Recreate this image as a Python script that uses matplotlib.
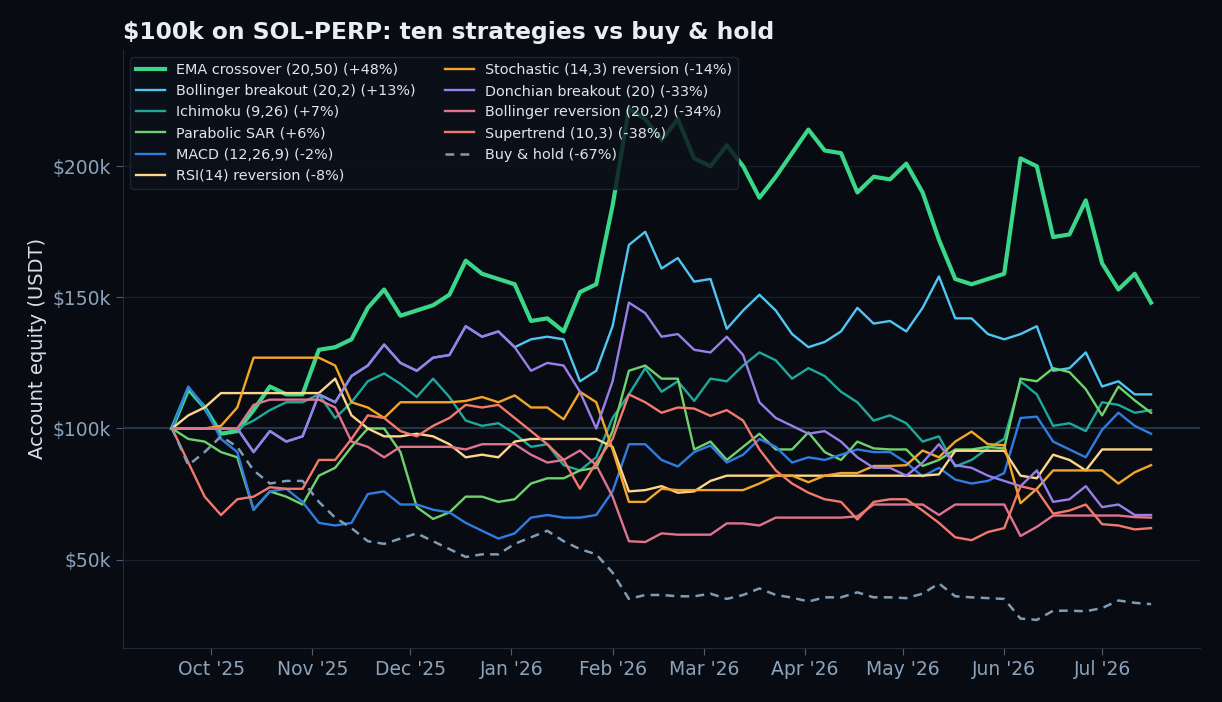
import pandas as pd
import matplotlib
matplotlib.use('Agg')
import matplotlib.pyplot as plt
import matplotlib.dates as mdates
from matplotlib.ticker import MultipleLocator, FuncFormatter


# equity in $k, sampled every 5 days from 2025-09-19
dates = pd.date_range('2025-09-19', periods=61, freq='5D')

ema = [100, 115, 108, 98, 99, 107, 116, 113, 113, 130, 131, 134, 146, 153, 143, 145, 147, 151, 164, 159,
       157, 155, 141, 142, 137, 152, 155, 185, 222, 218, 210, 218, 203, 200, 208, 200, 188, 196, 205, 214,
       206, 205, 190, 196, 195, 201, 190, 172, 157, 155, 157, 159, 203, 200, 173, 174, 187, 163, 153, 159, 148]
donchian = [100, 100, 100, 100, 100, 91, 99, 95, 97, 113, 110, 120, 124, 132, 125, 122, 127, 128, 139, 135,
            137, 131, 122, 125, 124, 114, 100, 118, 148, 144, 135, 136, 130, 129, 135, 128, 110, 104, 101, 98,
            99, 95, 89, 85, 85, 82, 87, 94, 86, 85, 82, 80, 78, 84, 72, 73, 78, 70, 71, 67, 67]
boll_break = donchian[:21] + [
    131, 134, 135, 134, 118, 122, 139, 170, 175, 161, 165, 156, 157, 138, 145, 151, 145, 136, 131,
    133, 137, 146, 140, 141, 137, 146, 158, 142, 142, 136, 134, 136, 139, 122, 123, 129, 116, 118, 113, 113]
ichimoku = [100, 100, 100, 100, 100, 103, 107, 110, 110, 113, 104, 110, 118, 121, 117, 112, 119, 112, 103, 101,
            102, 98, 93, 94, 86, 84, 89, 104, 113, 123, 114, 118, 110.5, 119, 118, 124, 129, 126, 119, 123,
            120, 114, 110, 103, 105, 102, 95, 97, 85.5, 88, 92.4, 96, 118, 113, 101, 102, 99, 110, 109, 106, 107]
psar = [100, 96, 95, 91, 89, 69, 76, 74, 71, 82, 85, 93, 100, 100, 91, 70, 65.5, 68, 74, 74,
        72, 73, 79, 81, 81, 84, 85, 99, 122, 124, 119, 119, 92, 95, 88, 93, 98, 92, 92, 98.5,
        91, 88, 95, 92.4, 92, 92, 85.7, 88, 92, 92, 93, 92.4, 119, 118, 123, 121.5, 115, 105, 116, 110.7, 106]
macd = [100, 116, 108, 96, 91, 69, 76, 77, 72, 64, 63, 64, 75, 76, 71, 71, 69, 68, 64, 61,
        58, 60, 66, 67, 66, 66, 67, 76, 94, 94, 88, 85.5, 91, 93.5, 87, 90, 96, 93, 87, 89,
        88, 90, 92, 91, 91, 87, 81.7, 85, 80.5, 79, 80, 83, 104, 104.5, 95, 92, 89, 99.5, 106, 101, 98]
rsi = [100, 105, 108, 113.5, 113.5, 113.5, 113.5, 113.5, 113.5, 113.5, 119, 105, 100, 97, 97, 98, 97, 94, 89, 90,
       89, 95, 96, 96, 96, 96, 96, 93, 76, 76.5, 78, 75.5, 76, 80, 82, 82, 82, 82, 82, 82,
       82, 82, 82, 82, 82, 82, 82, 82.5, 91.5, 91.5, 91.5, 91.5, 82, 81, 90, 88, 84, 92, 92, 92, 92]
stoch = [100, 100, 100, 101, 108, 127, 127, 127, 127, 127, 124, 110, 108, 104, 110, 110, 110, 110, 110.5, 112,
         110, 112.6, 108, 108, 103.5, 114, 110, 92, 72, 72, 77, 76.5, 76.5, 76.5, 76.5, 76.5, 79, 82, 82, 79.5,
         82, 83, 83, 85.7, 85.7, 86, 91.6, 89, 95, 98.8, 94, 93.6, 71.5, 77, 84, 84, 84, 84, 79, 83.3, 86]
boll_rev = [100, 100, 100, 100, 100, 109, 111, 111, 111, 111, 108, 95, 93, 89, 93, 93, 93, 93, 92, 94,
            94, 94, 90, 87, 88, 91.6, 86, 74, 57, 56.7, 60, 59.5, 59.5, 59.5, 63.8, 63.8, 63, 66, 66, 66,
            66, 66, 66.5, 71, 71, 71, 71, 67, 71, 71, 71, 71, 59, 62.5, 66.8, 66.8, 66.8, 66.8, 66.8, 66.2, 66]
supertrend = [100, 87, 74, 67, 73, 74, 77.6, 77, 77, 88, 88, 96, 105, 104, 99, 97, 101, 104, 109, 108,
              109, 104, 99, 94, 88, 77, 87, 96, 113, 110, 106, 108, 107.6, 104.8, 107, 103, 92, 84, 79, 75.5,
              73, 72, 65.3, 72, 73, 73, 68.7, 64, 58.5, 57.4, 60.5, 62, 78, 76.5, 67.5, 68.7, 71, 63.5, 63, 61.5, 62]
buy_hold = [100, 86, 91, 97, 93, 84, 79, 80, 80, 72, 66, 62, 57, 56, 58, 60, 57, 54, 51, 52,
            52, 56, 58.5, 61, 57, 54, 52, 45, 35, 36.5, 36.5, 36, 36, 37, 35, 36.5, 39, 36.5, 35.5, 34,
            35.6, 35.6, 37.5, 35.6, 35.6, 35.3, 37, 40.9, 36, 35.6, 35.3, 35, 27.5, 27, 30.5, 30.5, 30.3, 31.5, 34.4, 33.5, 33]

series = [
    ('EMA crossover (20,50) (+48%)', ema, '#3ad68a'),
    ('Bollinger breakout (20,2) (+13%)', boll_break, '#4fc6f4'),
    ('Ichimoku (9,26) (+7%)', ichimoku, '#1fa89c'),
    ('Parabolic SAR (+6%)', psar, '#6fd36d'),
    ('MACD (12,26,9) (-2%)', macd, '#2f7de1'),
    ('RSI(14) reversion (-8%)', rsi, '#fcd68a'),
    ('Stochastic (14,3) reversion (-14%)', stoch, '#f4a62a'),
    ('Donchian breakout (20) (-33%)', donchian, '#9b7fe8'),
    ('Bollinger reversion (20,2) (-34%)', boll_rev, '#e0738f'),
    ('Supertrend (10,3) (-38%)', supertrend, '#f27a6c'),
]

bg = '#080b11'
fig = plt.figure(figsize=(12.22, 7.02), dpi=100, facecolor=bg)
ax = fig.add_axes([0.1007, 0.077, 0.8813, 0.852], facecolor=bg)

for i, (name, vals, col) in enumerate(series):
    lw = 3.0 if i == 0 else 1.7
    ax.plot(dates, [v * 1000 for v in vals], color=col, lw=lw, label=name)
ax.plot(dates, [v * 1000 for v in buy_hold], color='#7f9cb6', lw=1.8,
        dashes=(3.5, 2.5), label='Buy & hold (-67%)')

ax.set_ylim(16300, 244400)
ax.axhline(100000, color='#26364a', lw=1.4, zorder=1.5)
ax.yaxis.grid(True, color='#17212e', lw=0.9)
ax.set_axisbelow(True)

ax.yaxis.set_major_locator(MultipleLocator(50000))
ax.yaxis.set_major_formatter(FuncFormatter(lambda v, p: f'${v/1000:.0f}k'))
ax.xaxis.set_major_locator(mdates.MonthLocator())
ax.xaxis.set_major_formatter(mdates.DateFormatter("%b '%y"))

for s in ['top', 'right']:
    ax.spines[s].set_visible(False)
for s in ['left', 'bottom']:
    ax.spines[s].set_color('#1f2b3b')
ax.tick_params(colors='#4a5d74', labelcolor='#8ba3bd', labelsize=13.5, length=5)

ax.set_ylabel('Account equity (USDT)', color='#d8e0ea', fontsize=14)
ax.set_title('$100k on SOL-PERP: ten strategies vs buy & hold', loc='left',
             color='#e8eef5', fontsize=16.8, fontweight='bold', pad=8)

leg = ax.legend(loc='upper left', ncol=2, fontsize=10.4, frameon=True,
                facecolor='#0b111a', edgecolor='#1f2b3b', framealpha=0.82)
for t in leg.get_texts():
    t.set_color('#dfe6ee')

plt.savefig('out.png', dpi=100, facecolor=bg)
